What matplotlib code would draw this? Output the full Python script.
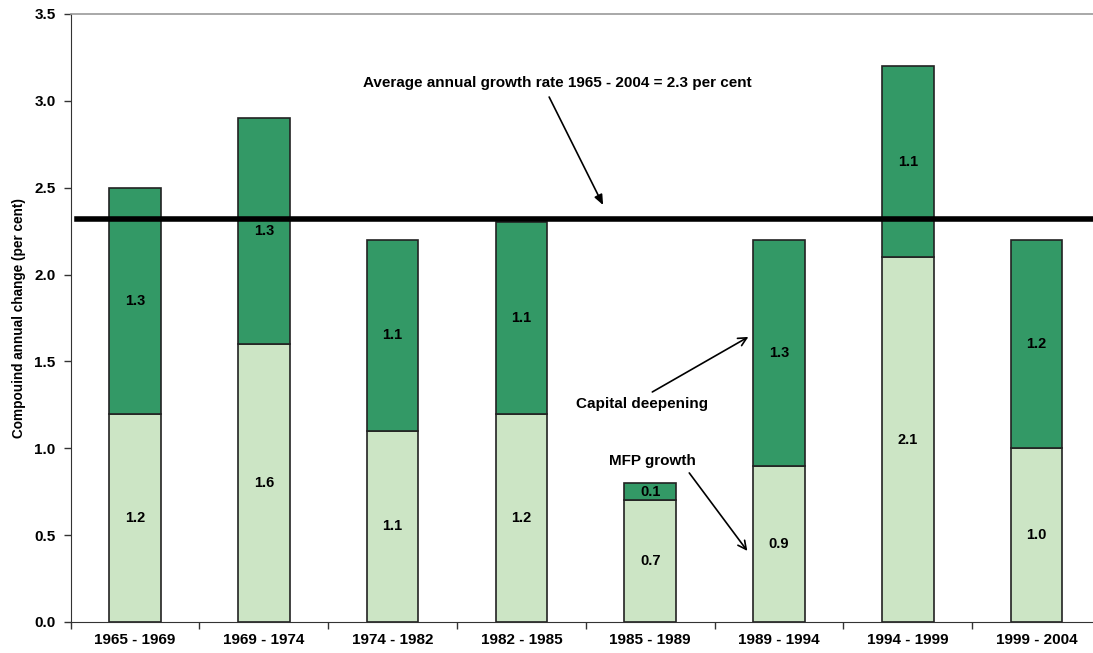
import numpy as np
import matplotlib
matplotlib.use("Agg")
import matplotlib.pyplot as plt
from matplotlib.ticker import FormatStrFormatter

plt.rcParams['font.family'] = ['Liberation Sans', 'DejaVu Sans']
plt.rcParams['font.weight'] = 'bold'

periods = ["1965 - 1969", "1969 - 1974", "1974 - 1982", "1982 - 1985",
           "1985 - 1989", "1989 - 1994", "1994 - 1999", "1999 - 2004"]
mfp_growth = [1.2, 1.6, 1.1, 1.2, 0.7, 0.9, 2.1, 1.0]
capital_deepening = [1.3, 1.3, 1.1, 1.1, 0.1, 1.3, 1.1, 1.2]
average_rate = 2.32

light_green = "#cce5c5"
dark_green = "#339966"

fig = plt.figure(figsize=(10.93, 6.53), dpi=100)
ax = fig.add_axes([0.0647, 0.0475, 0.9426, 0.9311])

x = np.arange(len(periods))
mfp = np.array(mfp_growth)
cap = np.array(capital_deepening)
w = 0.40
ax.bar(x, mfp, width=w, color=light_green, edgecolor="#222222", linewidth=1.2, zorder=2)
ax.bar(x, cap, width=w, bottom=mfp, color=dark_green, edgecolor="#222222", linewidth=1.2, zorder=2)

for xi, m, c in zip(x, mfp, cap):
    ax.text(xi, m / 2, f"{m:.1f}", ha="center", va="center", fontsize=10.5,
            fontweight="bold", zorder=4)
    ax.text(xi, m + c / 2, f"{c:.1f}", ha="center", va="center", fontsize=10.5,
            fontweight="bold", zorder=4)

ax.axhline(average_rate, xmin=0.006, xmax=1.0, color="black", linewidth=4, zorder=3)

ax.set_xlim(-0.5, len(periods) - 0.5)
ax.set_ylim(0, 3.5)
ax.set_yticks(np.arange(0, 3.51, 0.5))
ax.yaxis.set_major_formatter(FormatStrFormatter("%.1f"))

ax.set_xticks(np.arange(-0.5, len(periods), 1.0))
ax.set_xticklabels([])
ax.set_xticks(x, minor=True)
ax.set_xticklabels(periods, minor=True)
ax.tick_params(axis="x", which="major", length=5, width=1, color="#333333")
ax.tick_params(axis="x", which="minor", length=0, pad=8, labelsize=11)
ax.tick_params(axis="y", length=5, width=1, color="#333333", labelsize=11, pad=6)
for lab in ax.get_xticklabels(minor=True) + ax.get_yticklabels():
    lab.set_fontweight("bold")

ax.spines["right"].set_visible(False)
ax.spines["top"].set_color("#999999")
ax.spines["top"].set_linewidth(1.2)
ax.spines["left"].set_color("#333333")
ax.spines["bottom"].set_color("#333333")

ax.set_ylabel("Compouind annual change (per cent)", fontsize=9.8, fontweight="bold", labelpad=6)

# annotation texts
ax.text(3.277, 3.103, f"Average annual growth rate 1965 - 2004 = {average_rate:.1f} per cent",
        ha="center", va="center", fontsize=11, fontweight="bold")
ax.text(3.938, 1.255, "Capital deepening", ha="center", va="center",
        fontsize=11, fontweight="bold")
ax.text(4.016, 0.927, "MFP growth", ha="center", va="center",
        fontsize=11, fontweight="bold")

# pointer arrows
ax.annotate("", xy=(3.634, 2.40), xytext=(3.215, 3.022),
            arrowprops=dict(arrowstyle="-|>,head_length=0.6,head_width=0.25",
                            color="black", lw=1.2, shrinkA=0, shrinkB=0))
ax.annotate("", xy=(4.762, 1.641), xytext=(4.016, 1.324),
            arrowprops=dict(arrowstyle="->,head_length=0.6,head_width=0.3",
                            color="black", lw=1.2, shrinkA=0, shrinkB=0))
ax.annotate("", xy=(4.754, 0.409), xytext=(4.303, 0.858),
            arrowprops=dict(arrowstyle="->,head_length=0.6,head_width=0.3",
                            color="black", lw=1.2, shrinkA=0, shrinkB=0))

fig.savefig("out.png", dpi=100)
